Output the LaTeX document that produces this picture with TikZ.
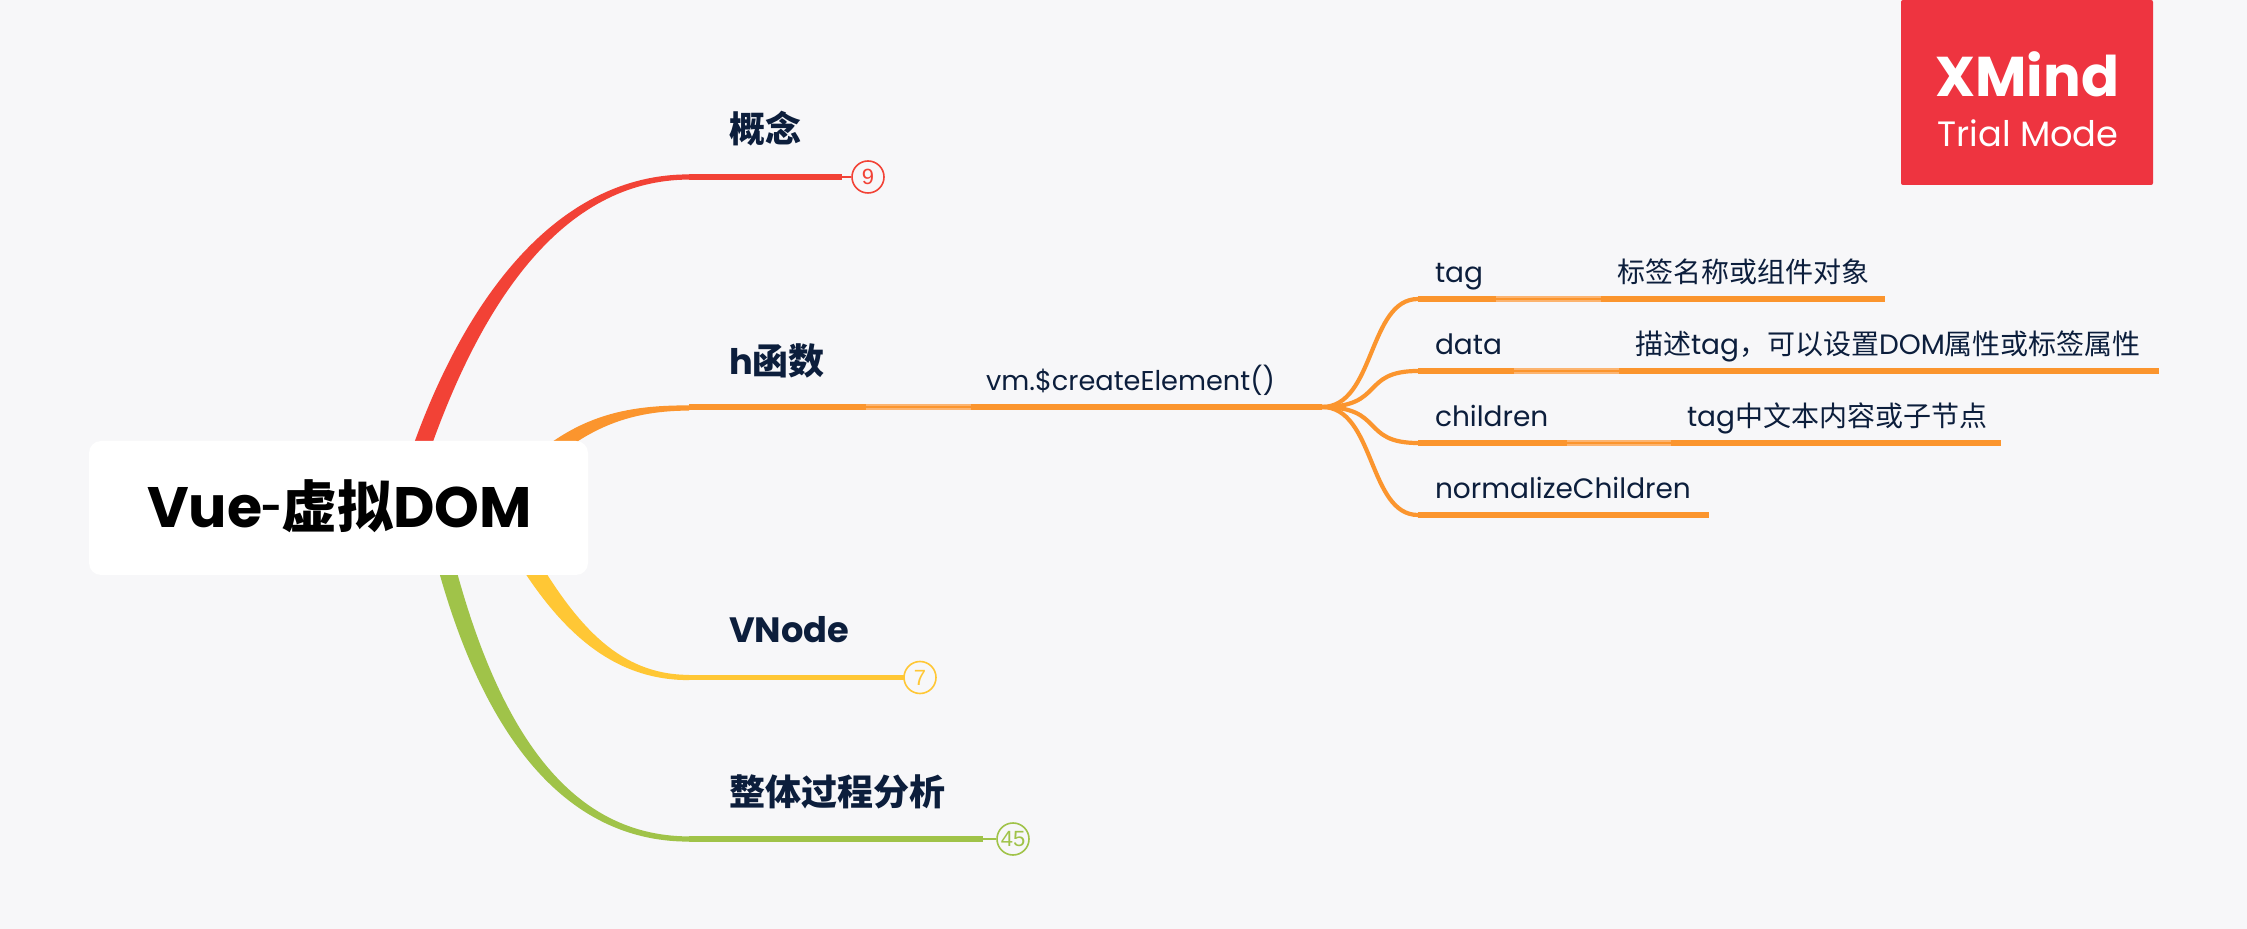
\documentclass[tikz,border=0pt]{standalone}
\usepackage{fontspec}
\usetikzlibrary{calc}
\setmainfont{Poppins}
\newfontfamily\cjk{Noto Sans CJK SC}
\newfontfamily\digits{Liberation Sans}
\newcommand{\zh}[1]{{\cjk #1}}
\newcommand{\zhb}[1]{{\fontsize{18}{18}\selectfont\cjk #1}}
\newcommand{\zhr}[1]{{\fontsize{28}{28}\selectfont\cjk #1}}
\newcommand{\fs}[1]{\fontsize{#1}{#1}\selectfont}
\definecolor{bgc}{HTML}{F7F7F9}
\definecolor{redc}{HTML}{F24236}
\definecolor{orc}{HTML}{FB952E}
\definecolor{orl}{HTML}{FCB470}
\definecolor{yelc}{HTML}{FFC735}
\definecolor{grc}{HTML}{A0C349}
\definecolor{inkc}{HTML}{0C1E3C}
\definecolor{logoc}{HTML}{EE3440}
\tikzset{
  x=0.5pt,y=-0.5pt,
  label/.style={inner sep=0,outer sep=0,anchor=base west,text=inkc},
  topiclabel/.style={label,font=\fs{17.6}\bfseries},
  sublabel/.style={label,font=\fs{14}},
  thick line/.style={line width=2.6pt},
  thin line/.style={line width=1.35pt},
  halo/.style={line width=2.6pt,color=orl},
  twig/.style={line width=2.1pt,color=orc},
  badge/.style={circle,draw,fill=bgc,line width=0.8pt,minimum size=16pt,inner sep=0,font=\fs{11}\digits},
  root/.style={fill=white,rounded corners=6pt,minimum width=249.5pt,minimum height=67pt,inner sep=0},
  logo/.style={fill=logoc,rounded corners=1pt,minimum width=126pt,minimum height=92.5pt,inner sep=0}
}
% tapered branch: colour, start, ctrl1, ctrl2, end, start half-offset (dx,dy), end half-thickness
\newcommand{\taper}[8]{%
  \fill[#1] ($(#2)+(#6,#7)$) .. controls ($(#3)+(#6,#7)$) and ($(#4)+(0.3*#6,1.1*#8)$) .. ($(#5)+(0,#8)$)
     -- ($(#5)+(0,-#8)$) .. controls ($(#4)+(-0.3*#6,-1.1*#8)$) and ($(#3)+(-#6,-#7)$) .. ($(#2)+(-#6,-#7)$) -- cycle;}
\begin{document}
\begin{tikzpicture}
\useasboundingbox (0,0) rectangle (2247,929);
\fill[bgc] (0,0) rectangle (2247,929);

\coordinate (rS) at (414,470); \coordinate (r1) at (470,300); \coordinate (r2) at (560,177); \coordinate (rE) at (689,177);
\coordinate (oS) at (510,490); \coordinate (o1) at (570,425); \coordinate (o2) at (620,408); \coordinate (oE) at (689,408);
\coordinate (yS) at (510,530); \coordinate (y1) at (560,620); \coordinate (y2) at (610,677.5); \coordinate (yE) at (689,677.5);
\coordinate (gS) at (435,520); \coordinate (g1) at (480,720); \coordinate (g2) at (560,839); \coordinate (gE) at (689,839);

\taper{redc}{rS}{r1}{r2}{rE}{8.5}{2}{2.6}
\taper{orc}{oS}{o1}{o2}{oE}{4}{7}{2.6}
\taper{yelc}{yS}{y1}{y2}{yE}{8.5}{-4}{-2.6}
\taper{grc}{gS}{g1}{g2}{gE}{8.5}{-2}{-2.6}

\node[root] (center) at (338.5,508) {};
\node[label,text=black,font=\fs{28.5}\bfseries] (rootlabel) at (147,527.5) {Vue\kern-0.5pt\raisebox{3.5pt}{\fs{18}-}\kern-0.5pt\zhr{虚拟}DOM};

% topic labels
\node[topiclabel] (t1) at (729,143) {\zhb{概念}};
\node[topiclabel] (t2) at (729,374.5) {h\zhb{函数}};
\node[topiclabel] (t3) at (729,643) {VNode};
\node[topiclabel] (t4) at (729,805) {\zhb{整体过程分析}};

% badges
\node[badge,draw=redc,text=redc] (b1) at (868,177) {9};
\node[badge,draw=yelc,text=yelc] (b3) at (920,677.5) {7};
\node[badge,draw=grc,text=grc] (b4) at (1013,839) {45};

\coordinate (r3) at (842,177); \coordinate (y3) at (905,677.5); \coordinate (g3) at (983,839);
\draw[thick line,redc] (rE) -- (r3); \draw[thin line,redc] (r3) -- (b1);
\draw[thick line,yelc] (yE) -- (y3); \draw[thin line,yelc] (y3) -- (b3);
\draw[thick line,grc] (gE) -- (g3); \draw[thin line,grc] (g3) -- (b4);

% h branch
\coordinate (o3) at (866,407); \coordinate (o4) at (971,407); \coordinate (hub) at (1322,407);
\draw[thick line,orc] (oE |- o3) -- (o3);
\draw[halo] (o3) -- (o4); \draw[thin line,orc] (o3) -- (o4);
\draw[thick line,orc] (o4) -- (hub);
\node[sublabel,font=\fs{13.6}] (vm) at (986,391) {vm.\$createElement()};

% twigs
\coordinate (a0) at (1418,299); \coordinate (a1) at (1496,299); \coordinate (a2) at (1601,299); \coordinate (a3) at (1884.5,299);
\coordinate (d0) at (1418,371); \coordinate (d1) at (1514,371); \coordinate (d2) at (1619,371); \coordinate (d3) at (2159,371);
\coordinate (c0) at (1418,443); \coordinate (c1) at (1567,443); \coordinate (c2) at (1671,443); \coordinate (c3) at (2001,443);
\coordinate (n0) at (1418,515); \coordinate (n1) at (1709,515);
\draw[twig] (hub) .. controls (1375,407) and (1368,299) .. (a0);
\draw[twig] (hub) .. controls (1385,407) and (1360,371) .. (d0);
\draw[twig] (hub) .. controls (1385,407) and (1360,443) .. (c0);
\draw[twig] (hub) .. controls (1375,407) and (1368,515) .. (n0);
\draw[thick line,orc] (a0) -- (a1); \draw[halo] (a1) -- (a2); \draw[thin line,orc] (a1) -- (a2); \draw[thick line,orc] (a2) -- (a3);
\draw[thick line,orc] (d0) -- (d1); \draw[halo] (d1) -- (d2); \draw[thin line,orc] (d1) -- (d2); \draw[thick line,orc] (d2) -- (d3);
\draw[thick line,orc] (c0) -- (c1); \draw[halo] (c1) -- (c2); \draw[thin line,orc] (c1) -- (c2); \draw[thick line,orc] (c2) -- (c3);
\draw[thick line,orc] (n0) -- (n1);

\node[sublabel] (tag) at (1435,282.5) {tag};
\node[sublabel] (data) at (1435,354.5) {data};
\node[sublabel] (children) at (1435,426.5) {children};
\node[sublabel] (norm) at (1435,498.5) {normalizeChildren};
\node[sublabel] (tagd) at (1617,282.5) {\zh{标签名称或组件对象}};
\node[sublabel] (datad) at (1635,354.5) {\zh{描述}tag\zh{，可以设置}DOM\zh{属性或标签属性}};
\node[sublabel] (childd) at (1687,426.5) {tag\zh{中文本内容或子节点}};

% logo
\node[logo] (logobox) at (2027,92.5) {};
\node[inner sep=0,anchor=base west,text=white,font=\fs{28}\bfseries] (logoa) at (1935,97) {XMind};
\node[inner sep=0,anchor=base west,text=white,font=\fs{17.6}] (logob) at (1937,147) {Trial Mode};
\end{tikzpicture}
\end{document}
